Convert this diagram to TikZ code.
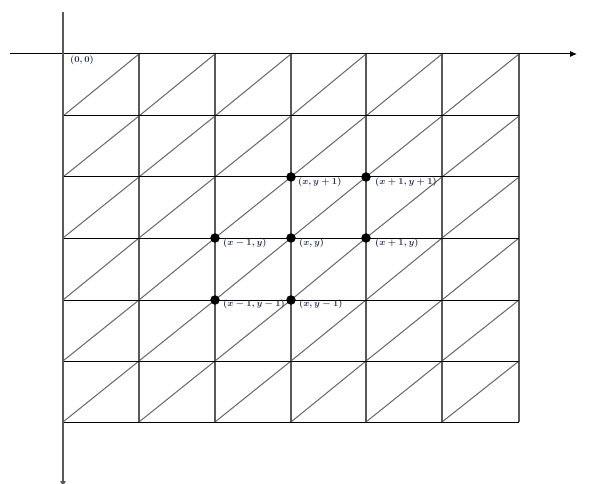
\documentclass[tikz,border=0pt]{standalone}
\usetikzlibrary{arrows.meta}
\definecolor{lbl}{RGB}{38,48,78}
\begin{document}
\begin{tikzpicture}[x=1pt,y=-1pt,
  hline/.style={black,line width=1pt},
  vline/.style={black!65,line width=1.1pt},
  diag/.style={black!60,line width=1pt},
  axis/.style={line width=1pt},
  dot/.style={circle,fill=black,inner sep=0pt,minimum size=9.5pt},
  lab/.style={anchor=north west,inner sep=0pt,text=lbl,font=\fontsize{9}{10}\selectfont\bfseries\boldmath}]
\useasboundingbox (0,0) rectangle (592,484);
\def\xs{{63,139,215,291,366,442,519}}
\def\ys{{54,116,177,238,300,361,422}}
% diagonals
\foreach \i in {0,...,5}{
  \foreach \j in {1,...,6}{
    \pgfmathsetmacro{\xa}{\xs[\i]}
    \pgfmathsetmacro{\xb}{\xs[\i+1]}
    \pgfmathsetmacro{\ya}{\ys[\j]}
    \pgfmathsetmacro{\yb}{\ys[\j-1]}
    \draw[diag] (\xa,\ya) -- (\xb,\yb);
  }
}
% vertical grid lines
\foreach \x in {139,215,291,366,442,519}{\draw[vline] (\x,54) -- (\x,422);}
% horizontal grid lines
\foreach \y in {116,177,238,300,361,422}{\draw[hline] (63,\y) -- (519,\y);}
% axes
\coordinate (xl) at (10,54);
\coordinate (xr) at (577,54);
\coordinate (yt) at (63,12);
\coordinate (yb) at (63,487);
\draw[axis,-{Latex[length=7pt,width=6pt]}] (xl) -- (xr);
\draw[vline,-{Latex[length=6pt,width=6pt]}] (yt) -- (yb);
\node[lab] (o) at (70,56) {$(0,0)$};
% points
\node[dot] (p1) at (291,177) {};
\node[dot] (p2) at (366,177) {};
\node[dot] (p3) at (215,238) {};
\node[dot] (p4) at (291,238) {};
\node[dot] (p5) at (366,238) {};
\node[dot] (p6) at (215,300) {};
\node[dot] (p7) at (291,300) {};
\node[lab] (l1) at (298,178) {$(x,y+1)$};
\node[lab] (l2) at (375,178) {$(x+1,y+1)$};
\node[lab] (l3) at (223,239) {$(x-1,y)$};
\node[lab] (l4) at (299,239) {$(x,y)$};
\node[lab] (l5) at (375,239) {$(x+1,y)$};
\node[lab] (l6) at (223,300) {$(x-1,y-1)$};
\node[lab] (l7) at (299,300) {$(x,y-1)$};
\end{tikzpicture}
\end{document}
